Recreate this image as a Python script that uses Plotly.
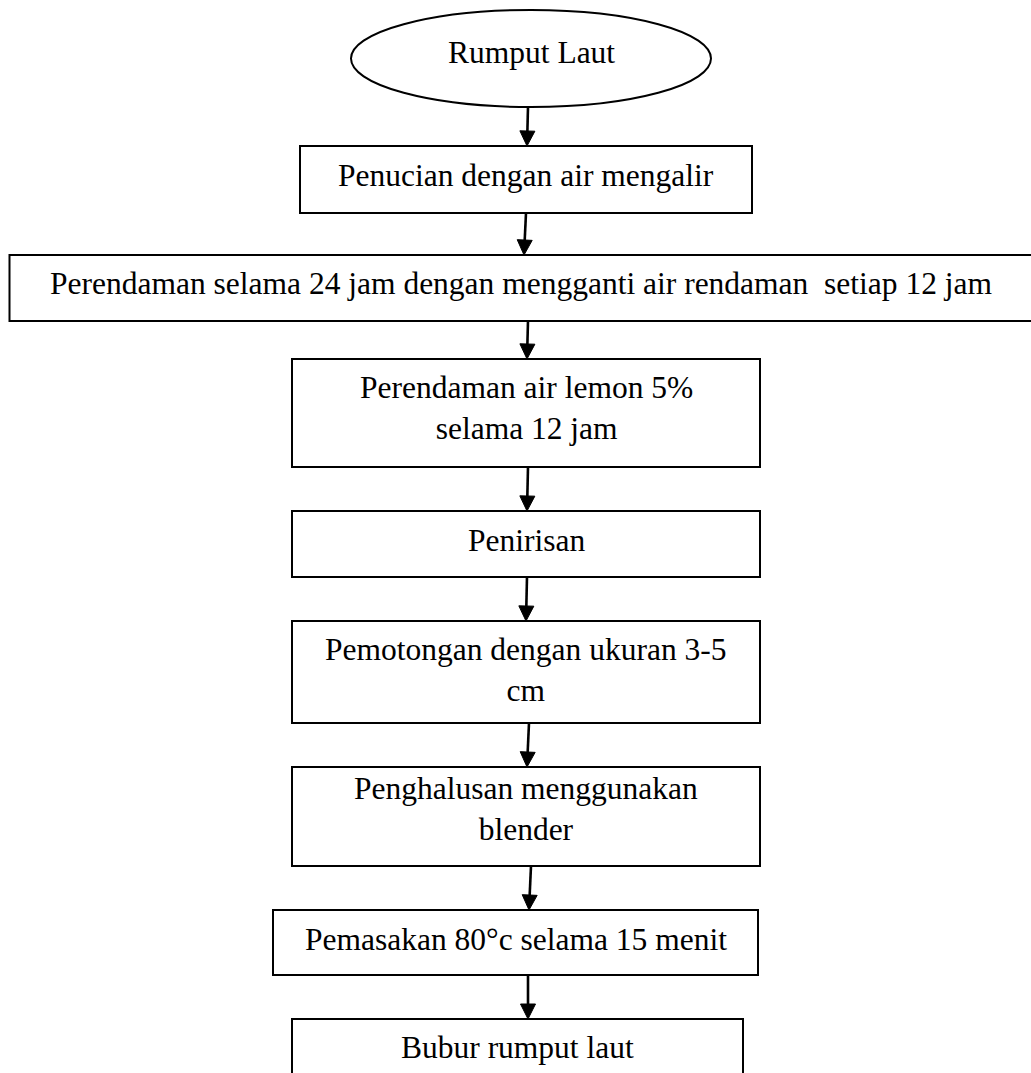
import math
import plotly.graph_objects as go

# ---- content (flowchart steps) ----
step_labels = [
    ["Rumput Laut"],
    ["Penucian dengan air mengalir"],
    ["Perendaman selama 24 jam dengan mengganti air rendaman\u00a0 setiap 12 jam"],
    ["Perendaman air lemon 5%", "selama 12 jam"],
    ["Penirisan"],
    ["Pemotongan dengan ukuran 3-5", "cm"],
    ["Penghalusan menggunakan", "blender"],
    ["Pemasakan 80°c selama 15 menit"],
    ["Bubur rumput laut"],
]
step_shapes = ["ellipse", "rect", "rect", "rect", "rect", "rect", "rect", "rect", "rect"]

# ---- layout geometry (pixels) ----
W, H = 1031, 1073
node_x0 = [351, 300, 9.5, 292, 292, 292, 292, 273, 292]
node_x1 = [711, 752, 1035, 760, 760, 760, 760, 758, 743]
node_y0 = [10, 146, 255, 359, 511, 621, 767, 910, 1019]
node_y1 = [107, 213, 321, 467, 577, 723, 866, 975, 1085]
text_baselines = [[63], [186], [294], [399, 439], [551], [661, 700], [800, 839], [950], [1058]]
arrow_x_top = [528, 526, 528, 528, 527, 529, 531, 528]
arrow_x_tip = [527, 524, 527, 527, 526, 527, 529, 528]

FONT = "Liberation Serif"
FSIZE = 31.5
LW = 2
ARROW_LW = 2.6
HEAD_LEN = 15
HEAD_HALF = 7.5

fig = go.Figure()
shapes = []
annotations = []

for i, lines in enumerate(step_labels):
    kind = "circle" if step_shapes[i] == "ellipse" else "rect"
    shapes.append(dict(type=kind, xref="x", yref="y",
                       x0=node_x0[i], x1=node_x1[i], y0=node_y0[i], y1=node_y1[i],
                       line=dict(color="black", width=LW), fillcolor="white", layer="below"))
    bl = text_baselines[i]
    yc = sum(bl) / len(bl) - 0.3375 * FSIZE
    xc = (node_x0[i] + min(node_x1[i], W + 9)) / 2 if i != 2 else 521
    annotations.append(dict(x=xc, y=yc, xref="x", yref="y", text="<br>".join(lines),
                            showarrow=False, xanchor="center", yanchor="middle",
                            font=dict(family=FONT, size=FSIZE, color="black")))

for i in range(len(step_labels) - 1):
    xs, ys = arrow_x_top[i], node_y1[i]
    xt, yt = arrow_x_tip[i], node_y0[i + 1]
    dx, dy = xt - xs, yt - ys
    L = math.hypot(dx, dy)
    ux, uy = dx / L, dy / L
    bx, by = xt - ux * HEAD_LEN, yt - uy * HEAD_LEN
    px, py = -uy, ux
    shapes.append(dict(type="line", xref="x", yref="y", x0=xs, y0=ys, x1=bx + ux * 2, y1=by + uy * 2,
                       line=dict(color="black", width=ARROW_LW)))
    path = (f"M {xt},{yt} L {bx + px * HEAD_HALF},{by + py * HEAD_HALF} "
            f"L {bx - px * HEAD_HALF},{by - py * HEAD_HALF} Z")
    shapes.append(dict(type="path", xref="x", yref="y", path=path,
                       fillcolor="black", line=dict(color="black", width=1)))

fig.update_layout(
    width=W, height=H,
    margin=dict(l=0, r=0, t=0, b=0),
    paper_bgcolor="white", plot_bgcolor="white",
    xaxis=dict(range=[0, W], visible=False, fixedrange=True),
    yaxis=dict(range=[H, 0], visible=False, fixedrange=True),
    shapes=shapes, annotations=annotations, showlegend=False,
)

fig.write_html("out.html", config=dict(displayModeBar=False),
               post_script="document.body.style.margin='0';document.body.style.overflow='hidden';")
